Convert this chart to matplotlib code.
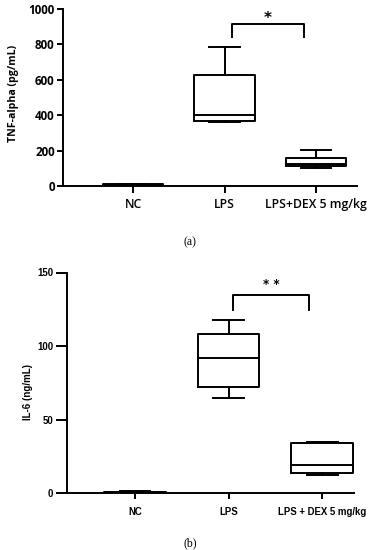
import matplotlib
matplotlib.use("Agg")
import matplotlib.pyplot as plt

# (a) TNF-alpha, box stats
groups_a = ['NC', 'LPS', 'LPS+DEX 5 mg/kg']
tnf_min = [0, 362, 100]
tnf_q1 = [3, 369, 115]
tnf_med = [6, 401, 122]
tnf_q3 = [10, 627, 160]
tnf_max = [13, 787, 202]

# (b) IL-6
groups_b = ['NC', 'LPS', 'LPS + DEX 5 mg/kg']
il6_min = [0.0, 64.4, 12.2]
il6_q1 = [0.2, 71.9, 13.4]
il6_med = [0.5, 91.8, 19.0]
il6_q3 = [1.0, 108.0, 33.8]
il6_max = [1.3, 117.7, 34.7]

W, H = 374, 550
fig = plt.figure(figsize=(W / 100, H / 100), dpi=100)


def px_axes(x0, y0, x1, y1):
    return fig.add_axes([x0 / W, 1 - y1 / H, (x1 - x0) / W, (y1 - y0) / H])


def make_stats(mins, q1s, meds, q3s, maxs):
    return [dict(whislo=a, q1=b, med=c, q3=d, whishi=e, fliers=[])
            for a, b, c, d, e in zip(mins, q1s, meds, q3s, maxs)]


lw = 1.4
props = dict(color='black', linewidth=lw)

# ---------- panel (a) ----------
ax1 = px_axes(63, 9, 357, 186)
ax1.bxp(make_stats(tnf_min, tnf_q1, tnf_med, tnf_q3, tnf_max),
        positions=[1, 2, 3], widths=0.66, showfliers=False,
        boxprops=props, medianprops=props, whiskerprops=props, capprops=props)
ax1.set_xlim(0.235, 3.448)
ax1.set_ylim(0, 1000)
ax1.set_yticks([0, 200, 400, 600, 800, 1000])
ax1.set_xticks([1, 2, 3])
ax1.set_xticklabels(groups_a, fontfamily='Open Sans', fontweight='semibold', fontsize=8.8)
for t in ax1.get_yticklabels():
    t.set_fontfamily('Open Sans')
    t.set_fontweight('bold')
    t.set_fontsize(8.4)
ax1.set_ylabel('TNF-alpha (pg/mL)', fontfamily='Open Sans', fontweight='bold', fontsize=7.6)
ax1.yaxis.set_label_coords(-0.15, 0.525)
ax1.spines[['top', 'right']].set_visible(False)
ax1.spines[['left', 'bottom']].set_linewidth(lw)
ax1.tick_params(axis='y', length=4, width=lw, pad=2)
ax1.tick_params(axis='x', length=5, width=lw, pad=3.5)

# significance bracket
ax1.plot([2.08, 2.08, 2.87, 2.87], [842, 915, 915, 842], color='black', lw=lw, clip_on=False)
ax1.text(2.475, 948, '*', ha='center', va='center', fontsize=11, fontweight='bold')

fig.text(190 / W, 1 - 242 / H, '(a)', ha='center', va='center', fontfamily='Liberation Serif', fontsize=8.5)

# ---------- panel (b) ----------
ax2 = px_axes(67, 272.5, 354, 493)
ax2.bxp(make_stats(il6_min, il6_q1, il6_med, il6_q3, il6_max),
        positions=[1, 2, 3], widths=0.66, showfliers=False,
        boxprops=props, medianprops=props, whiskerprops=props, capprops=props)
ax2.set_xlim(0.273, 3.34)
ax2.set_ylim(0, 150)
ax2.set_yticks([0, 50, 100, 150])
ax2.set_xticks([1, 2, 3])
ax2.set_xticklabels(groups_b, fontfamily='Liberation Sans', fontweight='bold', fontsize=6.9)
for t in ax2.get_yticklabels():
    t.set_fontfamily('Liberation Sans')
    t.set_fontweight('bold')
    t.set_fontsize(6.9)
ax2.set_ylabel('IL-6 (ng/mL)', fontfamily='Liberation Sans', fontweight='bold', fontsize=7)
ax2.yaxis.set_label_coords(-0.118, 0.458)
ax2.spines[['top', 'right']].set_visible(False)
ax2.spines[['left', 'bottom']].set_linewidth(lw)
ax2.tick_params(axis='y', length=8, width=lw, pad=2)
ax2.tick_params(axis='x', length=4, width=lw, pad=6)

ax2.plot([2.05, 2.05, 2.86, 2.86], [124.5, 134.7, 134.7, 124.5], color='black', lw=lw, clip_on=False)
ax2.text(2.455, 142, '* *', ha='center', va='center', fontsize=8.5, fontweight='bold')

fig.text(190 / W, 1 - 543 / H, '(b)', ha='center', va='center', fontfamily='Liberation Serif', fontsize=8.5)

fig.savefig('out.png', dpi=100)
